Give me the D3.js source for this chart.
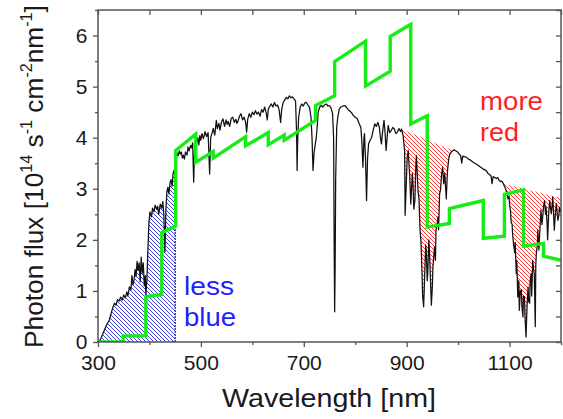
<!DOCTYPE html>
<html><head><meta charset="utf-8">
<script src="https://cdn.jsdelivr.net/npm/d3@7"></script>
<style>
html,body{margin:0;padding:0;background:#fff;}
svg{display:block;font-family:"Liberation Sans",Arial,sans-serif;}
</style></head>
<body><svg id="c" width="563" height="419"></svg>
<script>
// ---- data ----
const specNm = [302,306,311,316,322,326,329,332,335,338,341,344,347,350,353,356,358,361,364,366,368,370,372,374,376,378,380,382,384,386,388,390,392,393,395,397,399,401,404,406,409,411,414,416,418,421,424,426,428,430,432,434,436,438,440,442,444,446,448,450,
452,454,456,458,460,462,464,466,468,470,473,475,477,480,482,484,486,488,490,492,494,496,498,500,502,505,508,511,514,517,519,522,524,527,530,532,535,537,540,543,546,549,551,553,556,559,562,565,568,570,572,575,578,581,584,587,589,591,594,597,600,603,606,609,612,615,618,621,624,627,629,631,634,637,640,643,646,649,652,655,657,660,663,666,669,672,675,678,681,684,686,687,688,690,693,696,699,702,705,708,711,714,716,718,720,722,724,726,728,731,734,737,740,744,747,750,753,756,758,759,760,761,762,764,766,769,772,776,780,784,788,792,796,800,804,808,811,813,815,817,818,820,822,824,826,829,832,835,838,841,844,847,849,851,853,856,858,860,862,864,867,870,873,876,879,882,885,888,890,
893,896,897,899,901,903,905,906,908,909,911,912,914,916,918,919,921,922,924,926,928,930,931,933,935,937,938,940,941,943,944,946,948,950,951,953,954,956,957,959,961,962,964,966,968,970,972,974,976,977,979,980,982,984,987,990,
993,996,999,1002,1005,1007,1009,1012,1016,1020,1024,1028,1032,1036,1040,1044,1048,1052,1055,1058,1061,1064,1066,1068,1071,1074,1077,1080,1083,1085,1088,
1090,1093,1095,1097,1099,1100,1102,1103,1105,1106,1108,1110,1111,1113,1114,1116,1118,1119,1121,1123,1124,1126,1127,1129,1130,1132,1134,1136,1137,1139,1140,1142,1143,1145,1147,1148,1150,1151,1152,1154,1155,1157,1158,1160,1161,1163,1165,1166,1168,1170,1171,1173,1174,1176,1178,1180,1181,1183,1184,1186,1187,1189,1191,1192,1194,1196,1197,1199,1200];
const specFlux = [0,0.08,0.2,0.32,0.43,0.58,0.68,0.76,0.72,0.83,0.80,0.88,0.82,0.92,0.86,0.98,0.90,1.08,1.02,1.30,1.12,1.20,1.42,1.28,1.58,1.40,1.55,1.18,1.66,1.35,1.55,1.10,1.30,0.92,1.20,1.80,2.35,2.55,2.45,2.62,2.55,2.68,2.60,2.66,2.50,2.70,2.62,2.75,2.50,1.76,2.60,2.95,3.03,2.90,3.12,3.18,3.05,3.30,3.36,3.42,
3.55,3.70,3.65,3.74,3.68,3.72,3.60,3.66,3.58,3.72,3.66,3.82,3.74,3.85,3.80,3.90,3.13,3.85,3.96,3.90,4.00,3.86,4.04,3.95,4.08,3.98,4.12,4.02,4.10,3.29,4.00,4.10,4.18,4.05,4.34,4.18,4.28,4.15,4.30,4.37,4.22,4.35,4.26,4.32,4.22,4.38,4.40,4.30,4.36,4.28,4.32,4.42,4.47,4.35,4.40,4.30,4.11,4.36,4.47,4.40,4.50,4.45,4.53,4.46,4.50,4.42,4.55,4.50,4.60,4.48,4.35,4.55,4.62,4.66,4.60,4.69,4.62,4.64,4.55,4.30,4.55,4.69,4.74,4.79,4.76,4.82,4.78,4.80,4.76,4.72,4.10,3.36,3.90,4.40,4.60,4.66,4.62,4.68,4.69,4.64,4.60,4.40,4.00,3.36,3.70,3.85,3.98,4.20,4.50,4.60,4.63,4.60,4.64,4.66,4.62,4.63,4.58,4.47,4.00,2.0,0.59,1.5,3.20,4.20,4.40,4.56,4.60,4.62,4.63,4.58,4.53,4.50,4.44,4.40,4.37,4.27,4.20,3.90,3.42,4.00,4.08,3.60,2.77,3.60,3.88,3.95,4.01,4.15,4.27,4.22,4.30,4.20,4.00,3.88,4.10,4.34,4.10,3.75,4.00,4.24,4.10,4.14,4.20,4.17,4.08,4.11,4.18,4.12,4.17,
4.05,3.75,2.48,3.03,3.60,3.75,3.40,3.23,2.70,2.90,3.30,3.16,2.60,2.77,3.50,3.65,3.20,2.97,2.80,2.20,1.93,1.30,0.90,0.69,1.30,1.90,1.80,1.20,1.34,2.00,1.86,1.30,0.72,1.10,1.47,1.70,1.86,1.60,2.19,2.30,2.45,2.20,2.90,3.00,3.30,3.42,3.10,3.30,2.97,2.80,3.30,3.42,3.60,3.68,3.72,3.75,
3.76,3.74,3.72,3.68,3.65,3.50,3.64,3.63,3.62,3.58,3.56,3.53,3.50,3.48,3.45,3.42,3.39,3.37,3.35,3.30,3.28,3.25,3.10,3.24,3.22,3.20,3.22,3.16,3.14,3.15,3.10,
3.05,2.98,2.90,2.80,2.86,2.70,2.55,2.35,2.30,2.10,1.90,1.75,1.95,1.34,1.60,0.88,1.20,0.62,1.00,1.02,0.70,0.49,0.90,0.88,0.50,0.10,0.70,1.08,0.80,0.76,1.20,1.34,0.90,1.60,1.40,1.34,0.30,1.50,1.73,1.90,2.19,1.80,2.00,2.40,2.58,2.30,2.51,2.65,2.77,2.50,2.64,2.30,2.00,2.50,2.77,2.60,2.51,2.70,2.84,2.40,2.19,2.50,2.71,2.60,2.38,2.50,2.64,2.55,2.62];

const greenNm   = [300,349,349,393,393,424,424,451,451,490,490,524,524,587,587,631,631,662,662,723,723,760,760,820,820,868,868,908,908,940,940,983,983,1049,1049,1090,1090,1127,1127,1166,1166,1200];
const greenFlux = [0,0,0.12,0.12,0.885,0.93,2.14,2.27,3.75,4.07,3.52,3.73,3.60,4.02,3.84,4.10,3.86,4.05,3.95,4.34,4.63,4.82,5.49,5.89,5.01,5.30,5.98,6.22,4.27,4.43,2.25,2.32,2.61,2.77,2.03,2.07,2.89,2.98,1.875,1.93,1.68,1.60];

const blueEdge = 450;
const redEnv1Nm = [890, 990],  redEnv1Flux = [4.17, 3.75];
const redEnv2Nm = [1088, 1200], redEnv2Flux = [3.10, 2.82];

const xMajor = [300,500,700,900,1100];
const xMinor = [400,600,800,1000,1200];
const xAll   = [300,400,500,600,700,800,900,1000,1100,1200];
const yMajor = [0,1,2,3,4,5,6];
const yMinor = [0.5,1.5,2.5,3.5,4.5,5.5,6.5];
const yAll   = [0,0.5,1,1.5,2,2.5,3,3.5,4,4.5,5,5.5,6,6.5];

// ---- drawing ----
const svg = d3.select("#c");
const L=98, R=561, T=10, B=342;
const x = d3.scaleLinear().domain([300,1200]).range([L,R]);
const y = d3.scaleLinear().domain([0,6.5]).range([B,T]);

const defs = svg.append("defs");
function hatch(id, color, sw){
  const p = defs.append("pattern").attr("id",id).attr("patternUnits","userSpaceOnUse")
    .attr("width",4).attr("height",4);
  p.append("rect").attr("width",4).attr("height",4).attr("fill","#fff");
  p.append("path").attr("d","M-1,-1 L5,5 M-1,3 L1,5 M3,-1 L5,1")
    .attr("stroke",color).attr("stroke-width",sw);
}
hatch("hb","#4444dd",1.0);
hatch("hr","#ff4040",1.0);
defs.append("clipPath").attr("id","clip").append("rect")
  .attr("x",L).attr("y",T).attr("width",R-L).attr("height",B-T);

const spec = specNm.map((n,i)=>[n,specFlux[i]]);
const line = d3.line().x(d=>x(d[0])).y(d=>y(d[1]));
const plot = svg.append("g").attr("clip-path","url(#clip)");

// blue area
const bluePts = spec.filter(d=>d[0]<=blueEdge);
plot.append("path").datum(bluePts)
  .attr("d", d3.area().x(d=>x(d[0])).y0(y(0)).y1(d=>y(d[1])))
  .attr("fill","url(#hb)");
const bTop = bluePts[bluePts.length-1];
plot.append("line").attr("x1",x(bTop[0])).attr("x2",x(bTop[0]))
  .attr("y1",y(0)).attr("y2",y(bTop[1]))
  .attr("stroke","#1a1a5a").attr("stroke-width",1.2).attr("stroke-dasharray","2,1");

// red areas
function redRegion(envN, envF){
  const env = envN.map((n,i)=>[n,envF[i]]);
  const lower = spec.filter(d=>d[0]>=envN[0] && d[0]<=envN[envN.length-1]).reverse();
  plot.append("path").attr("d", line(env.concat(lower))+"Z").attr("fill","url(#hr)");
}
redRegion(redEnv1Nm, redEnv1Flux);
redRegion(redEnv2Nm, redEnv2Flux);

// black spectrum
plot.append("path").datum(spec).attr("d",line)
  .attr("fill","none").attr("stroke","#111").attr("stroke-width",1.25)
  .attr("stroke-linejoin","round");

// green steps
const green = greenNm.map((n,i)=>[n,greenFlux[i]]);
plot.append("path").datum(green).attr("d",line)
  .attr("fill","none").attr("stroke","#16ec16").attr("stroke-width",3.4)
  .attr("stroke-linejoin","miter");

// axes
const axCol = "#555";
function style(g, labels){
  g.select(".domain").remove();
  g.selectAll(".tick line").attr("stroke",axCol).attr("stroke-width",1.3);
  g.selectAll(".tick text").attr("fill","#1a1a1a").style("font-size","21px")
    .style("font-family","'Liberation Sans',Arial,sans-serif");
  if(!labels) g.selectAll(".tick text").remove();
}
svg.append("g").attr("transform",`translate(0,${B})`)
  .call(d3.axisBottom(x).tickValues(xMajor).tickSize(5).tickPadding(8).tickFormat(d3.format("d")))
  .call(g=>style(g,true));
svg.append("g").attr("transform",`translate(0,${B})`)
  .call(d3.axisBottom(x).tickValues(xMinor).tickSize(3).tickFormat(""))
  .call(g=>style(g,false));
svg.append("g").attr("transform",`translate(0,${T})`)
  .call(d3.axisTop(x).tickValues(xAll).tickSize(-5).tickFormat(""))
  .call(g=>style(g,false));
svg.append("g").attr("transform",`translate(${L},0)`)
  .call(d3.axisLeft(y).tickValues(yMajor).tickSize(5).tickPadding(5.5).tickFormat(d3.format("d")))
  .call(g=>style(g,true));
svg.append("g").attr("transform",`translate(${L},0)`)
  .call(d3.axisLeft(y).tickValues(yMinor).tickSize(3).tickFormat(""))
  .call(g=>style(g,false));
svg.append("g").attr("transform",`translate(${R},0)`)
  .call(d3.axisRight(y).tickValues(yAll).tickSize(-5).tickFormat(""))
  .call(g=>style(g,false));
svg.append("rect").attr("x",L).attr("y",T).attr("width",R-L).attr("height",B-T)
  .attr("fill","none").attr("stroke",axCol).attr("stroke-width",1.5);

// annotations
const ann = [
  {t:"less", x:184, y:295, c:"#1f1fff", w:50},
  {t:"blue", x:184, y:326, c:"#1f1fff", w:52},
  {t:"more", x:480, y:110, c:"#ff1f1f", w:63},
  {t:"red",  x:480, y:141, c:"#ff1f1f", w:39}
];
ann.forEach(a=>{
  svg.append("text").attr("x",a.x).attr("y",a.y).text(a.t)
    .attr("fill",a.c).style("font-size","26px")
    .attr("textLength",a.w).attr("lengthAdjust","spacingAndGlyphs");
});

// axis titles
svg.append("text").attr("x",329).attr("y",407).attr("text-anchor","middle")
  .style("font-size","25px").attr("fill","#1a1a1a")
  .attr("textLength",214).attr("lengthAdjust","spacingAndGlyphs")
  .text("Wavelength [nm]");

const yt = svg.append("g").attr("transform","translate(43,176.5) rotate(-90)");
const ytxt = yt.append("text").attr("text-anchor","middle").attr("fill","#1a1a1a")
  .style("font-size","26px");
const parts = [
  ["Photon flux  [10",0,26],["14",-11,16],[" s",11,26],["-1",-11,16],[" cm",11,26],
  ["-2",-11,16],["nm",11,26],["-1",-11,16],["]",11,26]
];
parts.forEach(p=>{
  ytxt.append("tspan").attr("dy",p[1]).style("font-size",p[2]+"px").text(p[0]);
});
const bw = ytxt.node().getBBox().width;
ytxt.attr("transform",`scale(${343/bw},1)`);
</script>
</body></html>
